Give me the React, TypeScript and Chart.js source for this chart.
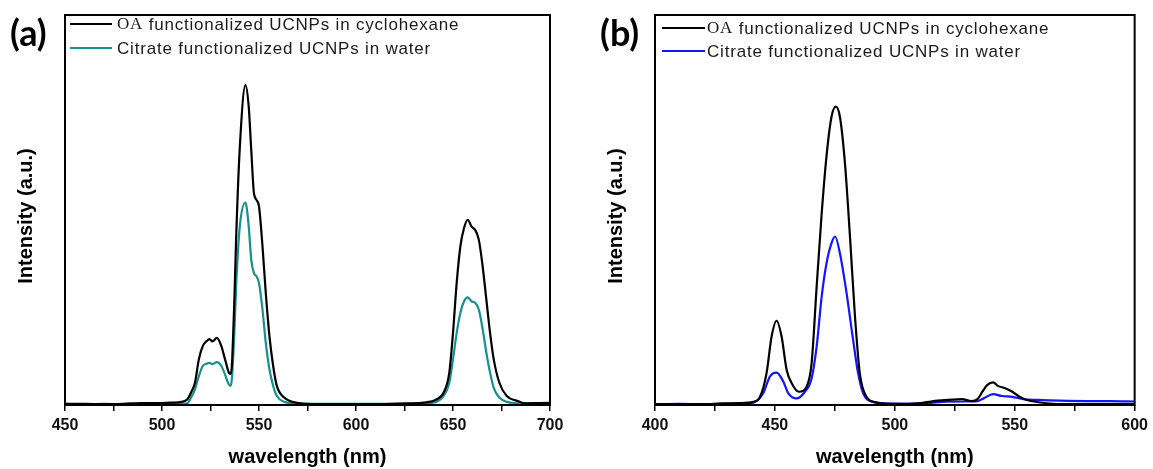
import React, { useEffect, useRef } from 'react';
import { Chart, registerables } from 'chart.js';
Chart.register(...registerables);

// ---------- Panel (a) data ----------
const A_WL = [450, 460, 470, 480, 490, 500, 505, 510, 513, 515, 517, 519, 521, 523, 524.5, 526, 528.3, 530.6, 532.5, 534.4, 535.3, 536, 537.3, 538.3, 540.1, 543, 544.7, 546, 547.4, 548.7, 550, 551.8, 553.5, 555.4, 557.3, 559.2, 563, 569, 575, 590, 610, 626, 635, 641.4, 645.2, 648.1, 650, 651.9, 653.8, 655.7, 657.6, 659.5, 661.4, 663.3, 665.3, 667.2, 669.1, 671, 673.9, 677.7, 683.4, 687.2, 692, 700];
const A_OA = [0.3, 0.3, 0.2, 0.3, 0.5, 0.5, 0.6, 0.8, 1.4, 3.2, 5.7, 11.7, 15.1, 16.4, 16.9, 16.3, 17.2, 15.1, 11.7, 8.4, 8.0, 10, 27, 44, 66, 82, 76.5, 65.4, 54.3, 52.6, 50.9, 40.7, 28.7, 17.6, 10, 4.9, 1.9, 0.6, 0.3, 0.2, 0.2, 0.4, 0.6, 1.4, 3.2, 8.3, 18.5, 31.3, 40.7, 45.4, 47.5, 45.8, 44.9, 42.4, 35.5, 27, 18.5, 11.7, 5.7, 2.3, 1, 0.4, 0.5, 0.5];
const A_CIT = [0.3, 0.2, 0.3, 0.2, 0.3, 0.3, 0.3, 0.3, 0.4, 1.9, 4, 7.4, 10, 10.6, 10.8, 10.5, 11, 10, 7.8, 5.3, 4.9, 6.6, 18.5, 31.3, 45.8, 51.9, 45.8, 37.3, 33.8, 33, 31.3, 24.5, 15.9, 9.1, 4.9, 2.3, 0.8, 0.4, 0.3, 0.3, 0.3, 0.3, 0.4, 0.8, 2.3, 5.7, 11.7, 18.5, 23.6, 26.6, 27.6, 26.6, 26.2, 24.5, 19.4, 13.4, 8.3, 4.4, 1.9, 0.8, 0.4, 0.5, 0.5, 0.6];

// ---------- Panel (b) data ----------
const B_OA_WL = [400, 410, 420, 428, 435, 441, 443.8, 446.5, 448.6, 450.7, 452.8, 454.9, 457, 460, 463.2, 465.3, 467.4, 469.5, 471.5, 473.6, 475.4, 477.1, 479.2, 481.3, 483.3, 485.4, 488.2, 492.4, 496.5, 505, 512, 518, 524, 528, 532, 534.5, 536.5, 538.5, 541, 543, 546, 549, 552, 555, 560, 566, 575, 590, 600];
const B_OA = [0.2, 0.2, 0.2, 0.4, 0.5, 0.8, 2.1, 8.1, 17.5, 21.6, 17.5, 9, 5.6, 3.4, 4.7, 10.7, 30.3, 49.1, 63.7, 73.9, 76.5, 73.9, 62, 43.2, 23.5, 8.1, 2.1, 0.6, 0.3, 0.3, 0.6, 1.1, 1.4, 1.5, 1.0, 1.5, 3.4, 5.1, 5.8, 4.9, 4.3, 3.4, 2.1, 1.3, 0.7, 0.3, 0.2, 0.2, 0.2];
const B_CIT_WL = [400, 410, 420, 430, 437, 441, 445.1, 447.9, 450.7, 453.5, 455.6, 459, 462.5, 465.3, 467.4, 469.5, 471.5, 473.6, 475.1, 477.1, 479.9, 482.6, 484.7, 486.8, 491, 496.5, 505, 512, 520, 530, 534, 537, 541, 544.5, 549, 553.6, 559.6, 568.7, 580, 590, 600];
const B_CIT = [0.2, 0.3, 0.2, 0.3, 0.4, 0.6, 3, 7.3, 8.3, 6, 3, 1.7, 3.4, 6.8, 15, 27.8, 36.3, 41.5, 43.2, 38.9, 28.6, 16.7, 8.1, 3, 0.8, 0.4, 0.3, 0.4, 0.8, 0.9, 0.9, 1.7, 2.8, 2.3, 2.1, 1.5, 1.3, 1.1, 1.0, 1.0, 0.9];

const LEGEND_OA_PREFIX = 'OA';
const LEGEND_OA_REST = ' functionalized UCNPs in cyclohexane';
const LEGEND_CIT = 'Citrate functionalized UCNPs in water';
const X_TITLE = 'wavelength (nm)';
const Y_TITLE = 'Intensity (a.u.)';

const SANS = 'Arial, "Liberation Sans", sans-serif';
const SERIF = '"Liberation Serif", "Times New Roman", serif';

type PanelProps = {
  width: number;
  left: number;
  xmin: number;
  xmax: number;
  oaWl: number[];
  oa: number[];
  citWl: number[];
  cit: number[];
  citColor: string;
  rightPad: number;
  legend: { x0: number; x1: number; tx: number; y1: number; y2: number };
  label: string;
};

function Panel(p: PanelProps) {
  const ref = useRef<HTMLCanvasElement | null>(null);
  useEffect(() => {
    if (!ref.current) return;
    const overlay = {
      id: 'overlay',
      afterDatasetsDraw(chart: any) {
        const { ctx, chartArea: a } = chart;
        ctx.save();
        ctx.strokeStyle = '#000';
        ctx.lineWidth = 2;
        ctx.strokeRect(a.left, a.top, a.right - a.left, a.bottom - a.top);
        // legend
        const L = p.legend;
        ctx.lineWidth = 2;
        ctx.strokeStyle = '#000';
        ctx.beginPath();
        ctx.moveTo(L.x0, L.y1);
        ctx.lineTo(L.x1, L.y1);
        ctx.stroke();
        ctx.strokeStyle = p.citColor;
        ctx.beginPath();
        ctx.moveTo(L.x0, L.y2);
        ctx.lineTo(L.x1, L.y2);
        ctx.stroke();
        ctx.fillStyle = '#1a1a1a';
        ctx.textBaseline = 'middle';
        ctx.textAlign = 'left';
        (ctx as any).letterSpacing = '0.8px';
        ctx.font = `17px ${SERIF}`;
        ctx.fillText(LEGEND_OA_PREFIX, L.tx, L.y1 + 1);
        const w = ctx.measureText(LEGEND_OA_PREFIX).width;
        ctx.font = `17px ${SANS}`;
        ctx.fillText(LEGEND_OA_REST, L.tx + w, L.y1 + 1);
        ctx.fillText(LEGEND_CIT, L.tx, L.y2 + 1);
        (ctx as any).letterSpacing = '0px';
        // y title
        ctx.translate(26, 216);
        ctx.rotate(-Math.PI / 2);
        ctx.textAlign = 'center';
        ctx.fillStyle = '#000';
        ctx.font = `bold 20px ${SANS}`;
        ctx.fillText(Y_TITLE, 0, 0);
        ctx.restore();
      },
    };
    const chart = new Chart(ref.current, {
      type: 'line',
      data: {
        datasets: [
          {
            label: LEGEND_OA_PREFIX + LEGEND_OA_REST,
            data: p.oaWl.map((x, i) => ({ x, y: p.oa[i] })),
            borderColor: '#000',
            borderWidth: 2.2,
            pointRadius: 0,
            cubicInterpolationMode: 'monotone',
            fill: false,
          },
          {
            label: LEGEND_CIT,
            data: p.citWl.map((x, i) => ({ x, y: p.cit[i] })),
            borderColor: p.citColor,
            borderWidth: 2.2,
            pointRadius: 0,
            cubicInterpolationMode: 'monotone',
            fill: false,
          },
        ],
      },
      options: {
        animation: false,
        responsive: false,
        maintainAspectRatio: false,
        layout: { padding: { top: 15, right: p.rightPad, left: 0, bottom: 0 } },
        plugins: { legend: { display: false }, tooltip: { enabled: false } },
        scales: {
          x: {
            type: 'linear',
            min: p.xmin,
            max: p.xmax,
            afterFit: (s: any) => {
              s.height = 64;
            },
            ticks: {
              stepSize: 25,
              autoSkip: false,
              maxRotation: 0,
              padding: 5,
              color: '#111',
              font: { family: SANS, size: 16, weight: 'bold' },
              callback: (v: any) => (Number(v) % 50 === 0 ? String(v) : ''),
            },
            grid: {
              display: true,
              drawOnChartArea: false,
              drawTicks: true,
              tickLength: 6,
              color: '#000',
              lineWidth: 1.5,
            },
            border: { display: false },
            title: {
              display: true,
              text: X_TITLE,
              color: '#000',
              font: { family: SANS, size: 20, weight: 'bold' },
              padding: { top: 0, bottom: 0 },
            },
          },
          y: {
            min: 0,
            max: 100,
            afterFit: (s: any) => {
              s.width = 65;
            },
            ticks: { display: false },
            grid: { display: false },
            border: { display: false },
          },
        },
      },
      plugins: [overlay],
    } as any);
    return () => chart.destroy();
  }, []);
  return (
    <div style={{ position: 'absolute', left: p.left, top: 0, width: p.width, height: 469 }}>
      <canvas ref={ref} width={p.width} height={469} style={{ display: 'block' }} />
      <div
        style={{
          position: 'absolute',
          left: 10,
          top: 11,
          fontFamily: 'Lato, "Open Sans", sans-serif',
          fontWeight: 'bold',
          fontSize: 36,
          lineHeight: '42px',
          color: '#000',
        }}
      >
        {p.label}
      </div>
    </div>
  );
}

export default function App() {
  return (
    <div style={{ position: 'absolute', left: 0, top: 0, width: 1153, height: 469, background: '#fff' }}>
      <Panel
        width={590}
        left={0}
        xmin={450}
        xmax={700}
        oaWl={A_WL}
        oa={A_OA}
        citWl={A_WL}
        cit={A_CIT}
        citColor="#17918d"
        rightPad={40}
        legend={{ x0: 70, x1: 112, tx: 117, y1: 24, y2: 48 }}
        label="(a)"
      />
      <Panel
        width={563}
        left={590}
        xmin={400}
        xmax={600}
        oaWl={B_OA_WL}
        oa={B_OA}
        citWl={B_CIT_WL}
        cit={B_CIT}
        citColor="#1414ff"
        rightPad={18}
        legend={{ x0: 72, x1: 115, tx: 117, y1: 28, y2: 51 }}
        label="(b)"
      />
    </div>
  );
}
